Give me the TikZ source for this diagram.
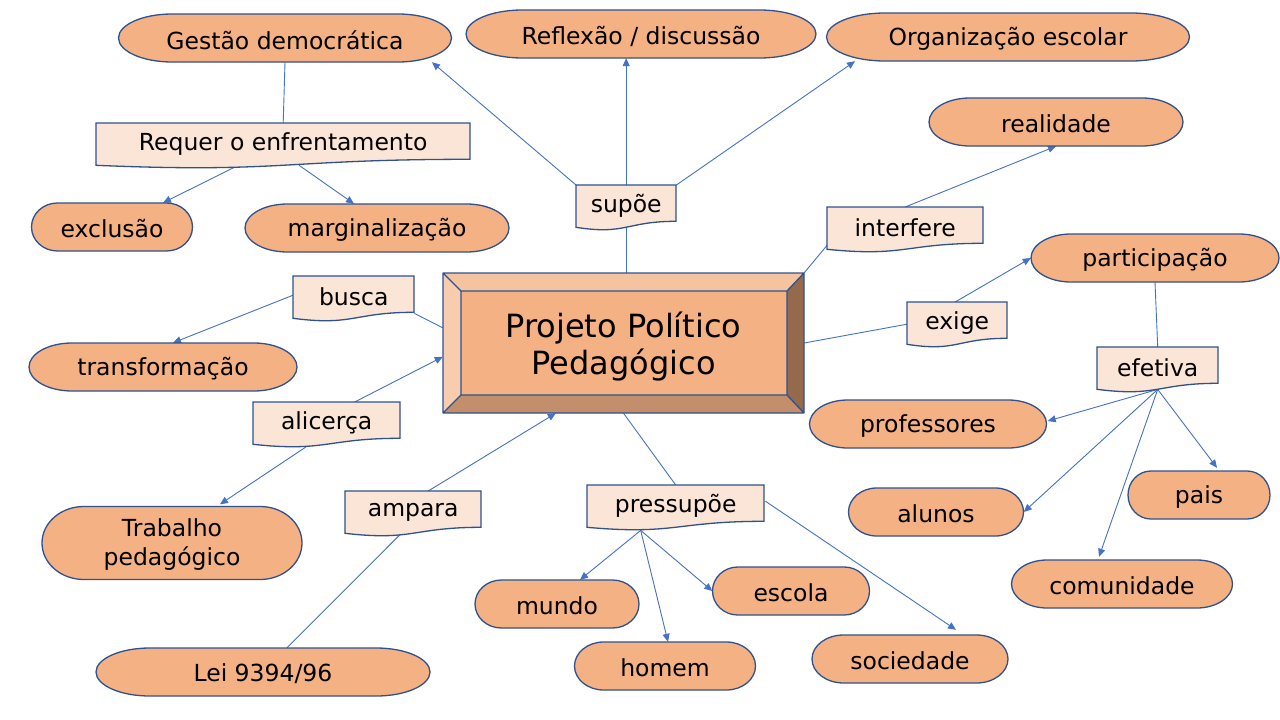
\documentclass[tikz,border=0pt]{standalone}
\usepackage{fontspec}
\setmainfont{DejaVu Sans}
\usetikzlibrary{shapes.misc,arrows.meta,calc,backgrounds}
\definecolor{orf}{HTML}{F4B183}
\definecolor{labf}{HTML}{FBE5D6}
\definecolor{bord}{HTML}{2F528F}
\definecolor{conn}{HTML}{4472C4}
\definecolor{bvtop}{HTML}{F6C3A0}
\definecolor{bvleft}{HTML}{F8CDAF}
\definecolor{bvbot}{HTML}{C28E6B}
\definecolor{bvright}{HTML}{94694C}
\newcommand\fs{\fontsize{23.5}{29}\selectfont}
\tikzset{
 pillshape/.style={fill=orf, draw=bord, line width=1.3pt},
 pilltext/.style={rectangle, inner sep=0pt, font=\fs, align=center},
 lbl/.style={rectangle, inner sep=0pt, minimum height=38pt, font=\fs},
 labshape/.style={fill=labf, draw=bord, line width=1.3pt},
 con/.style={draw=conn, line width=0.9pt},
 arr/.style={con, -{Triangle[length=8pt,width=7pt]}},
}
\newcommand\term[6]{%
 \pgfmathsetmacro\tmr{0.161*#4}%
 \pgfmathsetmacro\tmL{#2-#4/2+\tmr}%
 \pgfmathsetmacro\tmR{#2+#4/2-\tmr}%
 \pgfmathsetmacro\tmT{#3-#5/2}%
 \pgfmathsetmacro\tmB{#3+#5/2}%
 \filldraw[pillshape] (\tmL,\tmT) -- (\tmR,\tmT) arc[start angle=-90,end angle=90,x radius=\tmr,y radius=#5/2] -- (\tmL,\tmB) arc[start angle=90,end angle=270,x radius=\tmr,y radius=#5/2] -- cycle;
 \node[pilltext, minimum width=#4pt, minimum height=#5pt] (#1) at (#2,#3) {};
 \node[pilltext] at (#2,{#3+2}) {#6};
}
\newcommand\lab[5]{%
 \filldraw[labshape] (#2,#3) -- ++(#4,0) -- ++(0,36.3) .. controls +(-0.5*#4,0) and +(0.5*#4,7.9) .. (#2,{#3+42.3}) -- cycle;
 \node[lbl, minimum width=#4pt, anchor=north west] (#1) at (#2,#3) {};
 \node[pilltext] at ($(#1)+(0,2)$) {#5};
}
\begin{document}
\begin{tikzpicture}[x=1pt,y=-1pt]
\useasboundingbox (0,0) rectangle (1280,720);
% central bevel box
\fill[orf] (461,291) rectangle (787,395);
\fill[bvtop] (443,273) -- (804,273) -- (787,291) -- (461,291) -- cycle;
\fill[bvleft] (443,273) -- (461,291) -- (461,395) -- (443,413) -- cycle;
\fill[bvright] (804,273) -- (804,413) -- (787,395) -- (787,291) -- cycle;
\fill[bvbot] (443,413) -- (804,413) -- (787,395) -- (461,395) -- cycle;
\draw[bord, line width=1.3pt, line join=round] (443,273) rectangle (804,413) (461,291) rectangle (787,395)
  (443,273) -- (461,291) (804,273) -- (787,291) (804,413) -- (787,395) (443,413) -- (461,395);
\node[pilltext, minimum width=361pt, minimum height=140pt] (ppp) at (623.5,343) {};
\node[pilltext, font=\fontsize{32}{37}\selectfont] at (623.5,347) {Projeto Político\\Pedagógico};
% terminators
\term{gd}{285}{38}{333}{48}{Gestão democrática}
\term{rd}{641}{34}{350}{48}{Reflexão / discussão}
\term{org}{1008}{37}{363}{48}{Organização escolar}
\term{real}{1056}{122}{254}{48}{realidade}
\term{excl}{112}{227}{161}{48}{exclusão}
\term{marg}{377}{228}{264}{48}{marginalização}
\term{part}{1155}{258}{248}{48}{participação}
\term{trans}{163}{367}{268}{48}{transformação}
\term{prof}{928}{424}{237}{48}{professores}
\term{trab}{172}{543}{260}{73}{Trabalho\\pedagógico}
\term{alu}{936}{512}{175}{48}{alunos}
\term{pais}{1199}{495}{142}{48}{pais}
\term{com}{1122}{584}{221}{48}{comunidade}
\term{mun}{557}{604}{164}{48}{mundo}
\term{esc}{791}{591}{157}{48}{escola}
\term{hom}{665}{666}{181}{48}{homem}
\term{soc}{910}{659}{196}{48}{sociedade}
\term{lei}{263}{672}{334}{48}{Lei 9394/96}
% labels
\lab{req}{96}{123}{374}{Requer o enfrentamento}
\lab{sup}{576}{185}{100}{supõe}
\lab{int}{827}{207}{156}{interfere}
\lab{bus}{293}{276}{121}{busca}
\lab{exi}{907}{302}{100}{exige}
\lab{eff}{1097}{347}{121}{efetiva}
\lab{ali}{253}{402}{147}{alicerça}
\lab{amp}{345}{491}{136}{ampara}
\lab{pres}{587}{485}{177}{pressupõe}
% connectors
\begin{scope}[on background layer]
\fill[white] (0,0) rectangle (1280,720);
\draw[con] (gd.south) -- (req.north);
\draw[arr] ($(req.south)+(-49,6)$) -- ($(excl.north)+(51,0)$);
\draw[arr] ($(req.south)+(16,4)$) -- ($(marg.north)+(-23,0)$);
\draw[arr] (sup.north west) -- ($(gd.south)+(147,0)$);
\draw[arr] (sup.north) -- (sup.north |- rd.south);
\draw[arr] (sup.north east) -- ($(org.south)+(-153,0)$);
\draw[con] (sup.south) -- (sup.south |- ppp.north);
\draw[arr] (int.north) -- (real.south);
\draw[con] (int.south west) -- (ppp.north east);
\draw[con] (ppp.east) -- ($(exi.west)+(0,3)$);
\draw[arr] ($(exi.north)+(-2,0)$) -- (part.west);
\draw[con] (part.south) -- (eff.north);
\coordinate (effb) at ($(eff.south)+(0,4)$);
\draw[arr] (effb) -- ($(prof.east)+(1,-3)$);
\draw[arr] (effb) -- (alu.east);
\draw[arr] (effb) -- ($(com.north)+(-23,-3)$);
\draw[arr] (effb) -- ($(pais.north)+(18,-3)$);
\draw[arr] (bus.west) -- ($(trans.north)+(10,0)$);
\draw[con] ($(bus.south east)+(0,-1)$) -- ($(ppp.north west)+(0,55)$);
\draw[arr] ($(ali.north)+(28,0)$) -- ($(ppp.north west)+(0,84)$);
\draw[arr] ($(ali.south)+(-20,6)$) -- ($(trab.north)+(48,-2)$);
\draw[arr] ($(amp.north)+(15,0)$) -- ($(ppp.south west)+(113,0)$);
\draw[con] ($(amp.south)+(-12,4)$) -- ($(lei.north)+(24,0)$);
\draw[con] (ppp.south) -- (pres.north);
\coordinate (presb) at ($(pres.south)+(-35,7)$);
\draw[arr] (presb) -- ($(mun.north)+(23,0)$);
\draw[arr] (presb) -- ($(hom.north)+(3,0)$);
\draw[arr] (presb) -- (esc.west);
\draw[arr] ($(pres.east)+(1,-3)$) -- ($(soc.north)+(46,-5)$);
\end{scope}
\end{tikzpicture}
\end{document}
